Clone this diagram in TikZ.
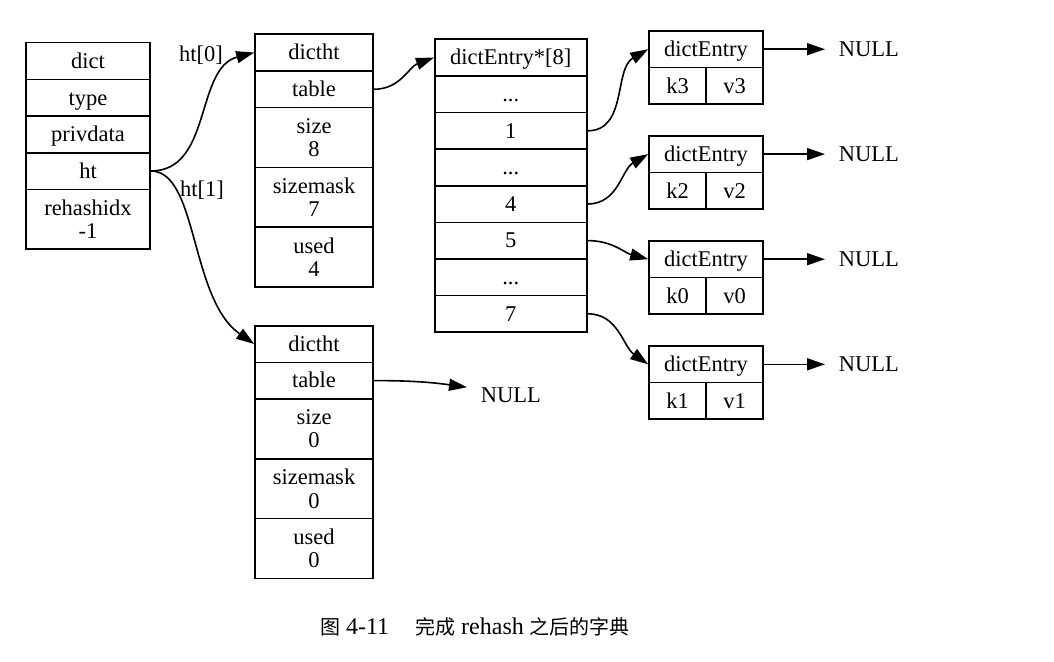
\documentclass[tikz,border=0pt]{standalone}
\usepackage{fontspec}
\setmainfont{Liberation Serif}
\newfontfamily\cjk{Noto Sans CJK SC}
\usetikzlibrary{arrows.meta}

\begin{document}
\begin{tikzpicture}[x=1pt,y=-1pt,
			font=\fontsize{22.5}{23.4}\selectfont,
			line width=1.6pt,
			cell/.style={draw, align=center, inner sep=0pt, minimum height=36.6pt, text height=19.5pt, text depth=4.9pt},
			tall/.style={draw, align=center, inner sep=0pt, minimum height=59.8pt},
			nullnode/.style={anchor=west, inner xsep=13pt, inner ysep=2pt},
			link/.style={-{Triangle[length=18pt,width=12pt]}}
		]
		\useasboundingbox (0,0) rectangle (1054,661);

		% dict
		\node[cell, minimum width=124pt] (dict) at (88,61) {dict};
		\node[cell, minimum width=124pt] (type) at (88,97.7) {type};
		\node[cell, minimum width=124pt] (priv) at (88,134.3) {privdata};
		\node[cell, minimum width=124pt] (ht) at (88,171) {ht};
		\node[tall, minimum width=124pt] (rehash) at (88,219.3) {rehashidx\\-1};

		% ht[0]
		\node[cell, minimum width=118pt] (hta) at (314,52.5) {dictht};
		\node[cell, minimum width=118pt] (hta-table) at (314,89.3) {table};
		\node[tall, minimum width=118pt] (hta-size) at (314,137.5) {size\\8};
		\node[tall, minimum width=118pt] (hta-mask) at (314,197.3) {sizemask\\7};
		\node[tall, minimum width=118pt] (hta-used) at (314,257.1) {used\\4};

		% ht[1]
		\node[cell, minimum width=118pt] (htb) at (314,344) {dictht};
		\node[cell, minimum width=118pt] (htb-table) at (314,380.6) {table};
		\node[tall, minimum width=118pt] (htb-size) at (314,428.8) {size\\0};
		\node[tall, minimum width=118pt] (htb-mask) at (314,488.6) {sizemask\\0};
		\node[tall, minimum width=118pt] (htb-used) at (314,548.4) {used\\0};
		\node[nullnode] (nulb) at (467,395) {NULL};

		% table
		\node[cell, minimum width=152pt] (arr0) at (510.8,57.6) {dictEntry*[8]};
		\node[cell, minimum width=152pt] (arr1) at (510.8,94.2) {...};
		\node[cell, minimum width=152pt] (arr2) at (510.8,130.8) {1};
		\node[cell, minimum width=152pt] (arr3) at (510.8,167.4) {...};
		\node[cell, minimum width=152pt] (arr4) at (510.8,204) {4};
		\node[cell, minimum width=152pt] (arr5) at (510.8,240.6) {5};
		\node[cell, minimum width=152pt] (arr6) at (510.8,277.2) {...};
		\node[cell, minimum width=152pt] (arr7) at (510.8,313.8) {7};

		% entries
		\foreach \k/\y in {3/49.2, 2/154.1, 0/259.2, 1/364.3}{
			\node[cell, minimum width=114pt] (ent\k) at (706,\y) {dictEntry};
			\node[cell, minimum width=57pt] (key\k) at (677.5,\y+36.6) {k\k};
			\node[cell, minimum width=57pt] (val\k) at (734.5,\y+36.6) {v\k};
			\node[nullnode] (nul\k) at (825,\y) {NULL};
			\draw[link] (ent\k.east) -- (nul\k.west);
		}

		\node[inner sep=0pt] (lbla) at (201,55) {ht[0]};
		\node[inner sep=0pt] (lblb) at (202,190) {ht[1]};

		\draw[link] (ht.east) to[out=0,in=195] (hta.west);
		\draw[link] (ht.east) to[out=0,in=145,out looseness=0.6] (htb.west);
		\draw[link] (hta-table.east) to[out=0,in=200] (arr0.west);
		\draw[link] (htb-table.east) to[out=0,in=172] (nulb.170);
		\draw[link] (arr2.east) to[out=0,in=210] (ent3.west);
		\draw[link] (arr4.east) to[out=0,in=210] (ent2.west);
		\draw[link] (arr5.east) to[out=0,in=165] (ent0.west);
		\draw[link] (arr7.east) to[out=0,in=145] (ent1.west);

		\node (caption) at (475,627) {\rmfamily\fontsize{24}{25}\selectfont{\fontsize{20}{25}\selectfont\cjk 图} 4-11\hspace{26pt}{\fontsize{20}{25}\selectfont\cjk 完成} rehash {\fontsize{20}{25}\selectfont\cjk 之后的字典}};
	\end{tikzpicture}
\end{document}
